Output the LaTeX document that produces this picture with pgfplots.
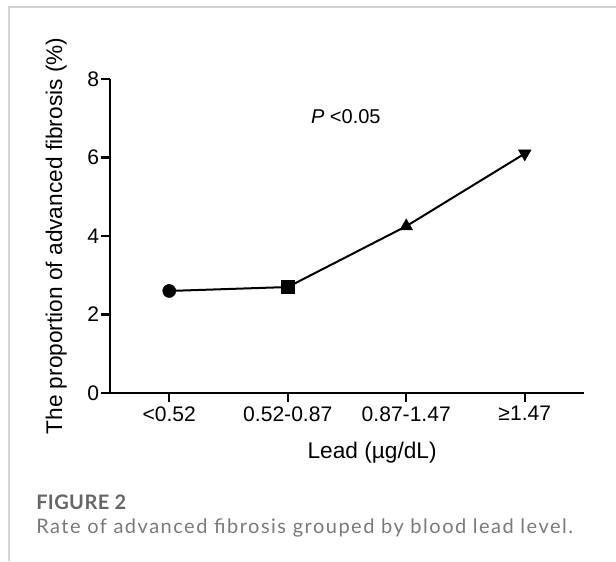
\documentclass[border=0pt]{standalone}
\usepackage{fontspec}
\setmainfont{Liberation Sans}
\newfontfamily\capfont[LetterSpace=7.5]{Lato}
\newfontfamily\capfontb[LetterSpace=2]{Lato}
\usepackage{pgfplots}
\pgfplotsset{compat=1.18}
\definecolor{framegray}{HTML}{D4D4D4}
\definecolor{capdark}{HTML}{666666}
\definecolor{caplight}{HTML}{7A7A7A}
\begin{document}
\begin{tikzpicture}[x=0.75pt,y=-0.75pt]
\path[use as bounding box] (0,0) rectangle (616,561);
\draw[framegray, line width=1.3pt] (9,561) -- (9,7) -- (616,7);
\begin{axis}[
    at={(82.5pt,-294.75pt)}, anchor=south west,
    scale only axis,
    width=355.5pt, height=235.5pt,
    xmin=-0.5, xmax=3.5, ymin=0, ymax=8,
    axis lines=left,
    axis line style={line width=1.6pt, -},
    xtick={0,1,2,3},
    xticklabels={<0.52, 0.52-0.87, 0.87-1.47, ≥1.47},
    ytick={0,2,4,6,8},
    tick align=outside,
    major tick length=6.5pt,
    tick style={line width=1.6pt, black},
    ticklabel style={font=\fontsize{15.8}{18}\selectfont},
    yticklabel style={inner sep=1.5pt},
    /pgf/number format/assume math mode=true,
    xlabel={Lead (µg/dL)},
    ylabel={The proportion of advanced fibrosis (\%)},
    label style={font=\fontsize{17}{20}\selectfont},
    xlabel style={at={(axis description cs:0.553,-0.207)}, anchor=base},
    ylabel style={at={(axis description cs:-0.101,0.5)}, anchor=base},
    clip=false,
]
% line through the four groups
\addplot[black, line width=1.5pt, no marks] coordinates {
    (0,2.6) (1,2.7) (2,4.25) (3,6.1)
};
\addplot[only marks, mark=*, mark size=4.9pt, black] coordinates {(0,2.6)};
\addplot[only marks, mark=square*, mark size=4.9pt, black] coordinates {(1,2.7)};
\addplot[only marks, mark=triangle*, mark size=5.4pt, black] coordinates {(2,4.25)};
\addplot[only marks, mark=triangle*, mark size=5.4pt, black, mark options={rotate=180}] coordinates {(3,6.1)};
\node[font=\fontsize{15}{18}\selectfont] at (axis cs:1.49,7.04) {\textit{P} <0.05};
\end{axis}
\node[anchor=base west, inner sep=0pt, text=capdark, font=\capfontb\bfseries\fontsize{15}{18}\selectfont] at (36,509) {FIGURE 2};
\node[anchor=base west, inner sep=0pt, text=caplight, font=\capfont\fontsize{15}{18}\selectfont] at (36,533) {Rate of advanced fibrosis grouped by blood lead level.};
\end{tikzpicture}
\end{document}
